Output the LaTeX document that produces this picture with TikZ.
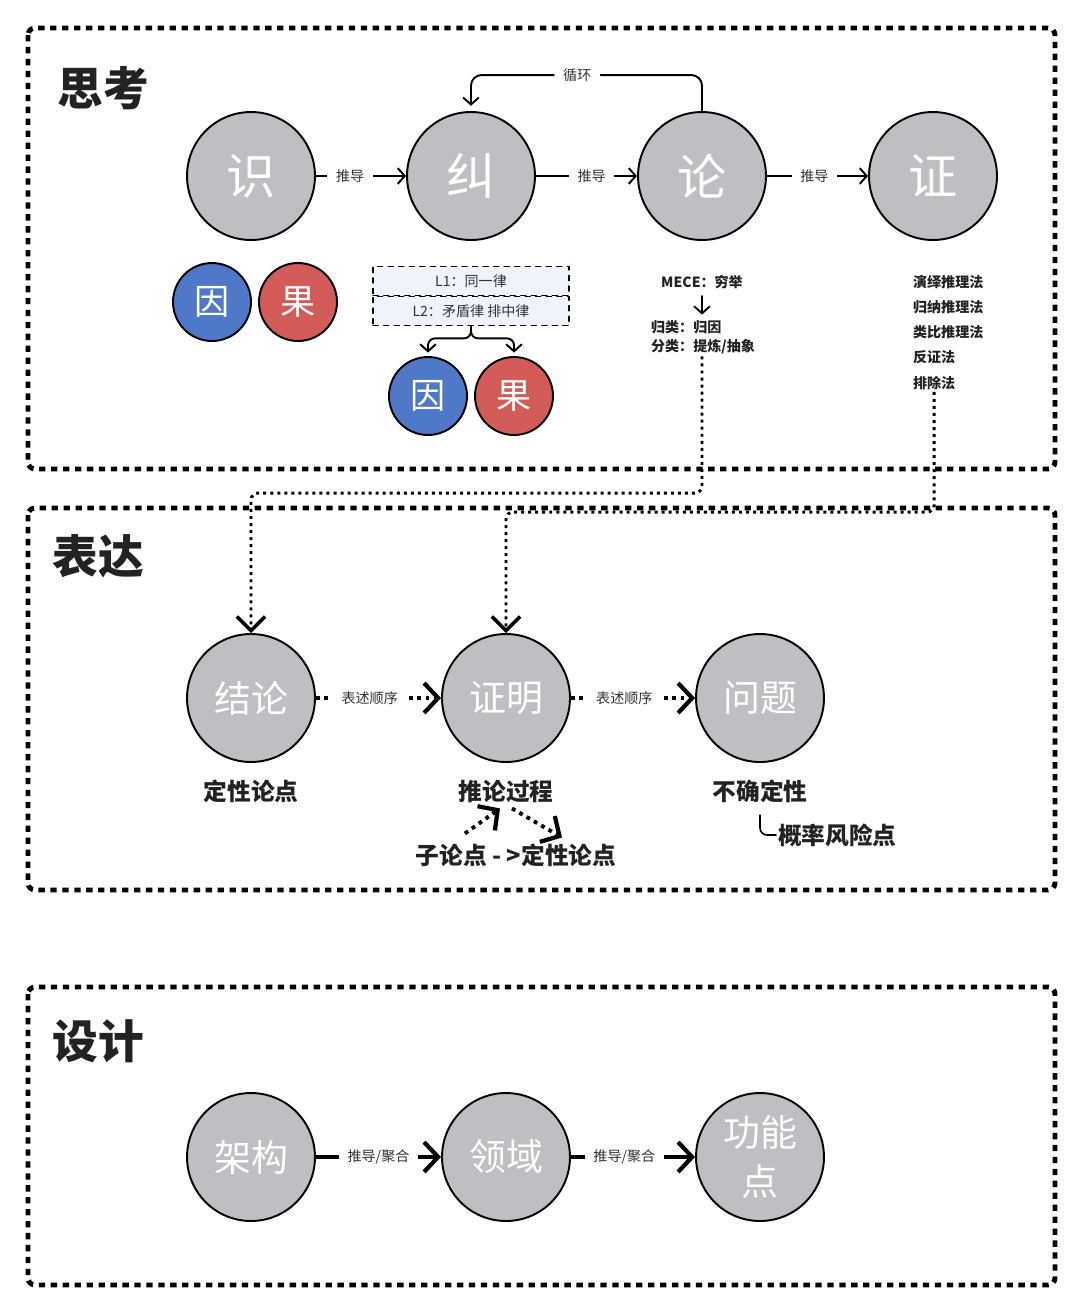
\documentclass[tikz,border=0pt]{standalone}
\usepackage{fontspec}
\setmainfont{Noto Sans CJK SC}
\usetikzlibrary{arrows.meta,calc}
\definecolor{ballgray}{HTML}{BDBFC3}
\definecolor{causeblue}{HTML}{4F78C8}
\definecolor{effectred}{HTML}{D35C59}
\definecolor{lawfill}{HTML}{EEF3FC}
\definecolor{lbltext}{HTML}{333333}
\definecolor{titletext}{HTML}{222222}
\tikzset{
  frame/.style={line width=2.8pt, dash pattern=on 3.6pt off 3.2pt, line cap=butt, rounded corners=4pt},
  ball/.style={circle, draw=black, line width=1.1pt, fill=ballgray, minimum size=2.56cm, inner sep=0pt,
    text=white, font=\fontsize{21}{28}\selectfont},
  thinkball/.style={ball, font=\fontsize{28}{30}\selectfont},
  smallball/.style={circle, draw=black, line width=1.1pt, minimum size=1.56cm, inner sep=0pt,
    text=white, font=\fontsize{20}{22}\selectfont},
  cause/.style={smallball, fill=causeblue},
  effect/.style={smallball, fill=effectred},
  title/.style={font=\fontsize{26}{28}\selectfont\bfseries, text=titletext},
  lbl/.style={font=\fontsize{8}{9}\selectfont, text=lbltext, fill=white, inner xsep=5pt, inner ysep=1pt},
  note/.style={font=\fontsize{8}{9}\selectfont\bfseries, text=titletext, inner sep=1pt},
  sublbl/.style={font=\fontsize{13.5}{15}\selectfont\bfseries, text=titletext, inner sep=1pt},
  lawbox/.style={draw=black, dashed, line width=.7pt, fill=lawfill, minimum width=3.92cm, minimum height=.58cm,
    inner sep=0pt, font=\fontsize{8}{9}\selectfont, text=lbltext},
  thinlink/.style={line width=1.1pt, -{Straight Barb[length=4pt,width=9pt]}},
  dotflow/.style={line width=2.2pt, line cap=butt, dash pattern=on 2.2pt off 2.6pt,
    -{Straight Barb[length=8pt,width=17pt,line width=2.4pt]}},
  solidflow/.style={line width=2.2pt, -{Straight Barb[length=8pt,width=17pt,line width=2.4pt]}},
  dotdrop/.style={line width=1.7pt, line cap=butt, dash pattern=on 1.7pt off 2.3pt, rounded corners=4pt,
    -{Straight Barb[length=8pt,width=16pt,line width=2pt]}},
}
\begin{document}
\begin{tikzpicture}[x=0.02cm, y=-0.02cm, line join=round, line cap=round]
\useasboundingbox (0,0) rectangle (1080,1313);
% three frames
\draw[frame] (28,28) rectangle (1055,469);
\draw[frame] (28,508) rectangle (1055,890);
\draw[frame] (28,987) rectangle (1055,1285);
\node[title] (sikao) at (103,88) {思考};
\node[title] (biaoda) at (98,556) {表达};
\node[title] (sheji) at (98,1041) {设计};

% thinking
\node[thinkball] (shi) at (251,176) {识};
\node[thinkball] (jiu) at (471,176) {纠};
\node[thinkball] (lun) at (702,176) {论};
\node[thinkball] (zheng) at (933,176) {证};
\draw[thinlink] (shi) -- node[lbl, pos=.38] {推导} (jiu);
\draw[thinlink] (jiu) -- node[lbl, pos=.55] {推导} (lun);
\draw[thinlink] (lun) -- node[lbl, pos=.47] {推导} (zheng);
\draw[thinlink, rounded corners=6pt, shorten >=3pt] (lun.north) -- ++(0,-36) -| node[lbl, pos=.27] {循环} (jiu.north);

\node[cause] (yin1) at (212,302) {因};
\node[effect] (guo1) at (298,302) {果};

\node[lawbox] (law1) at (471,281) {L1：同一律};
\node[lawbox, anchor=north] (law2) at (law1.south) {L2：矛盾律 排中律};
\node[cause] (yin2) at (428,396) {因};
\node[effect] (guo2) at (514,396) {果};
\draw[thinlink, rounded corners=4pt, shorten >=2pt] (law2.south) -- ++(0,12) -| (yin2.north);
\draw[thinlink, rounded corners=4pt, shorten >=2pt] (law2.south) -- ++(0,12) -| (guo2.north);

\node[note] (mece) at (702,282) {MECE：穷举};
\node[note, anchor=west] (guilei) at (649,327) {归类：归因};
\node[note, anchor=west] (fenlei) at (649,347) {分类：提炼/抽象};
\draw[thinlink, shorten <=3pt, shorten >=2pt] (mece.south) -- (mece.south |- guilei.north);

\node[note, anchor=west] (yanyi) at (911,282) {演绎推理法};
\node[note, anchor=west] (guina) at (911,307) {归纳推理法};
\node[note, anchor=west] (leibi) at (911,332) {类比推理法};
\node[note, anchor=west] (fanzheng) at (911,357) {反证法};
\node[note, anchor=west] (paichu) at (911,383) {排除法};

% expressing
\node[ball] (jielun) at (251,698) {结论};
\node[ball] (zhengming) at (506,698) {证明};
\node[ball] (wenti) at (760,698) {问题};
\draw[dotflow] (jielun) -- node[lbl, pos=.43] {表述顺序} (zhengming);
\draw[dotflow] (zhengming) -- node[lbl, pos=.43] {表述顺序} (wenti);

\coordinate (bendA) at (702,493);
\coordinate (bendB) at (934,512);
\draw[dotdrop] (fenlei.south -| mece.south) -- (mece.south |- bendA) -| (jielun.north);
\draw[dotdrop] (paichu.south) -- (paichu.south |- bendB) -| (zhengming.north);

\node[sublbl] (dingxing) at (251,791) {定性论点};
\node[sublbl] (tuilun) at (506,791) {推论过程};
\node[sublbl] (buque) at (760,791) {不确定性};
\node[sublbl] (zilun) at (516,855) {子论点 - >定性论点};
\node[sublbl, anchor=west] (gailv) at (776,835) {概率风险点};
\draw[dotflow] ($(zilun.north)+(-51,-8)$) -- ($(tuilun.south)+(-6,4)$);
\draw[dotflow] ($(tuilun.south)+(6,4)$) -- ($(zilun.north)+(46,-4)$);
\draw[line width=.9pt, rounded corners=4pt, shorten <=6pt] (buque.south) |- (gailv.west);

% design
\node[ball] (jiagou) at (251,1157) {架构};
\node[ball] (lingyu) at (506,1157) {领域};
\node[ball, align=center] (gongneng) at (760,1157) {功能\\点};
\draw[solidflow] (jiagou) -- node[lbl, pos=.5] {推导/聚合} (lingyu);
\draw[solidflow] (lingyu) -- node[lbl, pos=.43] {推导/聚合} (gongneng);
\end{tikzpicture}
\end{document}
